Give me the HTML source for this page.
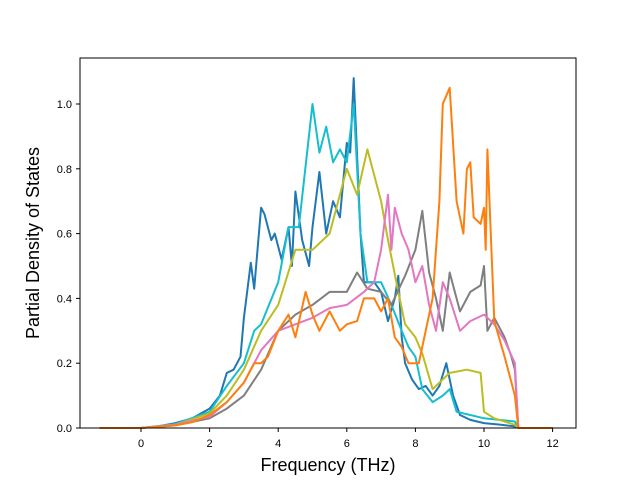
<!DOCTYPE html>
<html><head><meta charset="utf-8"><style>
body{margin:0;background:#fff;}
svg text{font-family:"Liberation Sans","DejaVu Sans",sans-serif;fill:#000;}
</style></head><body>
<svg id="chart" width="640" height="480" viewBox="0 0 640 480" xmlns="http://www.w3.org/2000/svg">
<rect width="640" height="480" fill="#fff"/>
<g id="series"></g>
<rect x="80" y="58" width="496" height="370" fill="none" stroke="#000" stroke-width="1"/>
<g id="xticks"></g>
<g id="yticks"></g>
<text x="328" y="471" font-size="18" text-anchor="middle">Frequency (THz)</text>
<text transform="translate(39,243) rotate(-90)" font-size="18" text-anchor="middle">Partial Density of States</text>
</svg>
<script>
const xTicks=[0,2,4,6,8,10,12];
const yTicks=[0,0.2,0.4,0.6,0.8,1.0];
const yTickLabels=["0.0","0.2","0.4","0.6","0.8","1.0"];
const seriesNames=["blue","orange","pink","gray","olive","cyan"];
const seriesColors=["#1f77b4","#ff7f0e","#e377c2","#7f7f7f","#bcbd22","#17becf"];
const blueF=[-1.2,0,0.5,1,1.5,2,2.3,2.5,2.7,2.9,3.0,3.2,3.3,3.5,3.6,3.8,3.9,4.1,4.3,4.4,4.5,4.7,4.9,5.0,5.2,5.4,5.6,5.8,6.0,6.1,6.2,6.4,6.5,6.8,7.0,7.2,7.4,7.5,7.6,7.7,7.9,8.1,8.3,8.5,8.7,8.9,9.1,9.3,9.6,10,10.5,10.9,11,12];
const blueV=[0,0,0.005,0.015,0.03,0.06,0.1,0.17,0.18,0.22,0.34,0.51,0.43,0.68,0.66,0.58,0.6,0.52,0.62,0.5,0.73,0.58,0.5,0.62,0.79,0.6,0.7,0.65,0.88,0.85,1.08,0.6,0.45,0.45,0.42,0.33,0.4,0.47,0.28,0.2,0.15,0.12,0.13,0.1,0.13,0.2,0.1,0.04,0.025,0.015,0.01,0.005,0,0];
const orangeF=[-1.2,0,1,1.5,2,2.5,3,3.3,3.5,3.7,4,4.3,4.5,4.8,5,5.2,5.5,5.8,6,6.3,6.5,6.8,7,7.2,7.4,7.6,7.8,8.1,8.3,8.5,8.7,8.8,9.0,9.2,9.4,9.5,9.6,9.7,9.9,10.0,10.05,10.1,10.3,10.6,10.9,11,12];
const orangeV=[0,0,0.008,0.018,0.04,0.08,0.14,0.2,0.2,0.22,0.3,0.35,0.28,0.42,0.35,0.3,0.36,0.3,0.32,0.33,0.4,0.4,0.36,0.4,0.28,0.25,0.2,0.2,0.3,0.4,0.7,1.0,1.05,0.7,0.6,0.8,0.82,0.65,0.63,0.68,0.55,0.86,0.33,0.22,0.1,0,0];
const pinkF=[-1.2,0,1,2,2.5,3,3.5,4,4.5,5,5.5,6,6.5,6.8,7.0,7.2,7.3,7.4,7.6,7.8,8.0,8.2,8.4,8.6,8.8,9.0,9.3,9.6,10,10.3,10.6,10.9,11,12];
const pinkV=[0,0,0.01,0.035,0.08,0.14,0.24,0.3,0.32,0.34,0.37,0.38,0.42,0.45,0.55,0.72,0.55,0.68,0.6,0.55,0.45,0.5,0.38,0.3,0.45,0.4,0.3,0.33,0.35,0.32,0.27,0.2,0,0];
const grayF=[-1.2,0,1,2,2.5,3,3.5,4,4.5,5,5.5,6,6.3,6.6,7,7.3,7.7,8,8.2,8.4,8.6,8.8,9.0,9.3,9.6,9.9,10.0,10.1,10.3,10.6,10.8,10.9,11,12];
const grayV=[0,0,0.008,0.03,0.06,0.1,0.18,0.3,0.35,0.38,0.42,0.42,0.48,0.43,0.42,0.38,0.47,0.55,0.67,0.48,0.4,0.3,0.48,0.36,0.42,0.44,0.5,0.3,0.34,0.28,0.22,0.18,0,0];
const oliveF=[-1.2,0,1,2,2.5,3,3.5,4,4.5,5,5.5,6,6.3,6.6,7,7.2,7.5,7.7,8,8.2,8.5,8.8,9,9.5,9.9,10.0,10.3,10.9,11,12];
const oliveV=[0,0,0.01,0.045,0.1,0.18,0.3,0.38,0.55,0.55,0.6,0.8,0.72,0.86,0.7,0.58,0.42,0.32,0.28,0.23,0.12,0.15,0.17,0.18,0.17,0.05,0.03,0.01,0,0];
const cyanF=[-1.2,0,1,2,2.5,3,3.3,3.5,4,4.3,4.6,5,5.2,5.4,5.6,5.8,6,6.2,6.4,6.6,7,7.3,7.6,7.8,8,8.2,8.5,8.8,9,9.2,9.6,10,10.9,11,12];
const cyanV=[0,0,0.012,0.05,0.13,0.2,0.3,0.32,0.45,0.62,0.62,1.0,0.85,0.93,0.82,0.86,0.82,1.0,0.6,0.45,0.45,0.38,0.3,0.25,0.22,0.12,0.08,0.1,0.12,0.05,0.04,0.03,0.02,0,0];
const seriesF=[blueF,orangeF,pinkF,grayF,oliveF,cyanF];
const seriesV=[blueV,orangeV,pinkV,grayV,oliveV,cyanV];
const X0=80,X1=576,Y0=428,Y1=58;
function xs(f){return 141+f*(484-141)/10;}
function ys(v){return 428-v*324;}
const NS="http://www.w3.org/2000/svg";
const sg=document.getElementById('series');
const order=[0,5,4,3,2,1];
for(const i of order){
  const p=document.createElementNS(NS,'path');
  let d='';
  seriesF[i].forEach((f,k)=>{d+=(k?'L':'M')+xs(f).toFixed(1)+','+ys(seriesV[i][k]).toFixed(1);});
  p.setAttribute('d',d);
  p.setAttribute('fill','none');
  p.setAttribute('stroke',seriesColors[i]);
  p.setAttribute('stroke-width','2');
  p.setAttribute('stroke-linejoin','round');
  
  
  sg.appendChild(p);
}
const xg=document.getElementById('xticks');
xTicks.forEach(t=>{
  const l=document.createElementNS(NS,'line');
  l.setAttribute('x1',xs(t));l.setAttribute('x2',xs(t));l.setAttribute('y1',428);l.setAttribute('y2',432);l.setAttribute('stroke','#000');
  
  
  xg.appendChild(l);
  const tx=document.createElementNS(NS,'text');
  tx.setAttribute('x',xs(t));tx.setAttribute('y',447);tx.setAttribute('font-size','11');tx.setAttribute('text-anchor','middle');
  tx.textContent=t;
  
  
  xg.appendChild(tx);
});
const yg=document.getElementById('yticks');
yTicks.forEach((t,k)=>{
  const l=document.createElementNS(NS,'line');
  l.setAttribute('x1',76);l.setAttribute('x2',80);l.setAttribute('y1',ys(t));l.setAttribute('y2',ys(t));l.setAttribute('stroke','#000');
  
  
  yg.appendChild(l);
  const tx=document.createElementNS(NS,'text');
  tx.setAttribute('x',72);tx.setAttribute('y',ys(t)+4);tx.setAttribute('font-size','11');tx.setAttribute('text-anchor','end');
  tx.textContent=yTickLabels[k];
  
  
  yg.appendChild(tx);
});
</script>
</body></html>
